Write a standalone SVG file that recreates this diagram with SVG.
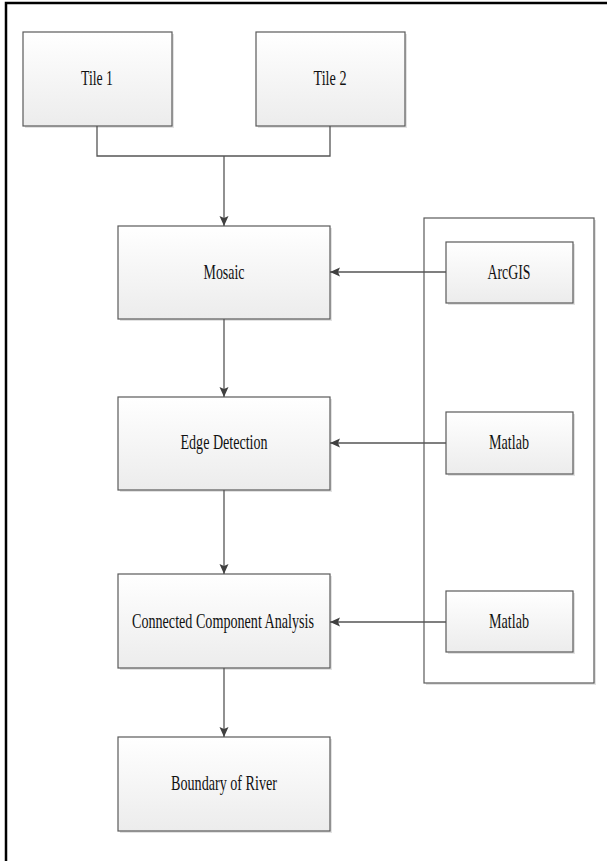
<svg xmlns="http://www.w3.org/2000/svg" width="607" height="861" viewBox="0 0 607 861">
<defs>
<linearGradient id="g" x1="0" y1="0" x2="0" y2="1">
<stop offset="0" stop-color="#ffffff"/>
<stop offset="1" stop-color="#ececec"/>
</linearGradient>
<marker id="ah" markerWidth="11" markerHeight="11" refX="10" refY="5.5" orient="auto" markerUnits="userSpaceOnUse">
<path d="M0,1 L10,5.5 L0,10 L2,5.5 Z" fill="#404040"/>
</marker>
</defs>
<style>
.box{fill:url(#g);stroke:#5a5a5a;stroke-width:1.2}
.sh{fill:#e2e2e2}
.t{font-family:"Liberation Serif","Times New Roman",serif;font-size:21px;fill:#111;text-anchor:middle}
.c{fill:none;stroke:#555;stroke-width:1.3}
</style>
<rect width="607" height="861" fill="#fff"/>
<rect x="6" y="3" width="640" height="900" fill="none" stroke="#000" stroke-width="2.5"/>
<g id="group">
<rect class="sh" x="426" y="220" width="170" height="465"/>
<rect x="424" y="218" width="170" height="465" fill="#fff" stroke="#5a5a5a" stroke-width="1.2"/>
</g>
<g id="tile1"><rect class="sh" x="25" y="34" width="149" height="94"/><rect class="box" x="23" y="32" width="149" height="94"/><text class="t" x="97" y="85" textLength="32" lengthAdjust="spacingAndGlyphs">Tile 1</text></g>
<g id="tile2"><rect class="sh" x="258" y="34" width="149" height="94"/><rect class="box" x="256" y="32" width="149" height="94"/><text class="t" x="330" y="85" textLength="33" lengthAdjust="spacingAndGlyphs">Tile 2</text></g>
<g id="mosaic"><rect class="sh" x="120" y="228" width="212" height="93"/><rect class="box" x="118" y="226" width="212" height="93"/><text class="t" x="224" y="279" textLength="41" lengthAdjust="spacingAndGlyphs">Mosaic</text></g>
<g id="edge"><rect class="sh" x="120" y="399" width="212" height="93"/><rect class="box" x="118" y="397" width="212" height="93"/><text class="t" x="224" y="449" textLength="87" lengthAdjust="spacingAndGlyphs">Edge Detection</text></g>
<g id="cca"><rect class="sh" x="120" y="576" width="212" height="94"/><rect class="box" x="118" y="574" width="212" height="94"/><text class="t" x="223" y="628" textLength="182" lengthAdjust="spacingAndGlyphs">Connected Component Analysis</text></g>
<g id="boundary"><rect class="sh" x="120" y="739" width="212" height="94"/><rect class="box" x="118" y="737" width="212" height="94"/><text class="t" x="224" y="790" textLength="106" lengthAdjust="spacingAndGlyphs">Boundary of River</text></g>
<g id="arcgis"><rect class="sh" x="448" y="244" width="127" height="61"/><rect class="box" x="446" y="242" width="127" height="61"/><text class="t" x="509" y="279" textLength="43" lengthAdjust="spacingAndGlyphs">ArcGIS</text></g>
<g id="matlab1"><rect class="sh" x="448" y="414" width="127" height="62"/><rect class="box" x="446" y="412" width="127" height="62"/><text class="t" x="509" y="449" textLength="40" lengthAdjust="spacingAndGlyphs">Matlab</text></g>
<g id="matlab2"><rect class="sh" x="448" y="593" width="127" height="61"/><rect class="box" x="446" y="591" width="127" height="61"/><text class="t" x="509" y="628" textLength="40" lengthAdjust="spacingAndGlyphs">Matlab</text></g>
<g id="connectors">
<path class="c" d="M97,126 V156 H330 V126"/>
<path class="c" d="M224,156 V226" stroke-width="2" marker-end="url(#ah)"/>
<path class="c" d="M224,319 V397" marker-end="url(#ah)"/>
<path class="c" d="M224,490 V574" marker-end="url(#ah)"/>
<path class="c" d="M224,668 V737" marker-end="url(#ah)"/>
<path class="c" d="M446,272 H330" marker-end="url(#ah)"/>
<path class="c" d="M446,443 H330" marker-end="url(#ah)"/>
<path class="c" d="M446,622 H330" marker-end="url(#ah)"/>
</g>
</svg>
